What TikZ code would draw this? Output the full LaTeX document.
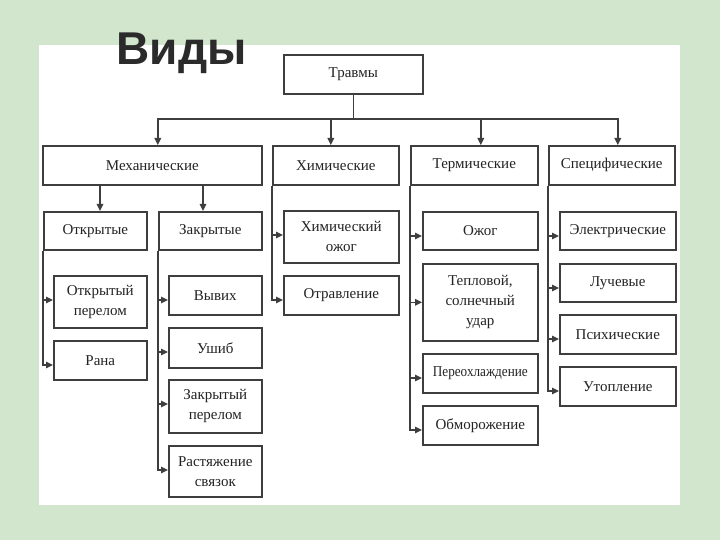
\documentclass[tikz,border=0pt]{standalone}
\usepackage{fontspec}
\setmainfont{Liberation Serif}
\newfontfamily\titlefont{Liberation Sans}
\usetikzlibrary{arrows.meta}

\definecolor{slidegreen}{RGB}{209,230,204}
\definecolor{linegray}{RGB}{62,62,62}
\definecolor{textgray}{RGB}{35,35,35}
\definecolor{titlegray}{RGB}{43,43,43}

\begin{document}
\begin{tikzpicture}[
    x=1pt, y=-1pt,
    box/.style={
        draw=linegray,
        line width=1.6pt,
        fill=white,
        anchor=north west,
        align=center,
        inner sep=1pt,
        text=textgray,
        font=\fontsize{15}{20}\selectfont
    },
    arr/.style={draw=linegray, line width=1.4pt, -{Triangle[length=7pt,width=6.5pt]}},
    link/.style={draw=linegray, line width=1.4pt}
]

% Slide background
\fill[slidegreen] (0,0) rectangle (720,540);
\fill[white] (39,45) rectangle (680,505);

% Title
\node[font=\titlefont\bfseries\fontsize{46}{50}\selectfont, text=titlegray, anchor=base west] (title) at (113,65) {Виды};

% Root
\node[box, minimum width=139pt, minimum height=39pt] (trauma) at (283,54) {Травмы};

% Main groups
\node[box, minimum width=219pt, minimum height=39pt] (mech) at (42,145) {Механические};
\node[box, minimum width=126pt, minimum height=39pt] (chem) at (272,145) {Химические};
\node[box, minimum width=127pt, minimum height=39pt] (term) at (410,145) {Термические};
\node[box, minimum width=126pt, minimum height=39pt] (spec) at (548,145) {Специфические};

% Mechanical subgroups
\node[box, minimum width=103pt, minimum height=38pt] (otkr) at (43,211) {Открытые};
\node[box, minimum width=103pt, minimum height=38pt] (zakr) at (158,211) {Закрытые};

% Open injuries
\node[box, minimum width=93pt, minimum height=52pt] (otkrper) at (53,275) {Открытый\\перелом};
\node[box, minimum width=93pt, minimum height=39pt] (rana) at (53,340) {Рана};

% Closed injuries
\node[box, minimum width=93pt, minimum height=39pt] (vyvih) at (168,275) {Вывих};
\node[box, minimum width=93pt, minimum height=40pt] (ushib) at (168,327) {Ушиб};
\node[box, minimum width=93pt, minimum height=53pt] (zakrper) at (168,379) {Закрытый\\перелом};
\node[box, minimum width=93pt, minimum height=51pt] (rast) at (168,445) {Растяжение\\связок};

% Chemical
\node[box, minimum width=115pt, minimum height=52pt] (himozhog) at (283,210) {Химический\\ожог};
\node[box, minimum width=115pt, minimum height=39pt] (otrav) at (283,275) {Отравление};

% Thermal
\node[box, minimum width=115pt, minimum height=38pt] (ozhog) at (422,211) {Ожог};
\node[box, minimum width=115pt, minimum height=77pt] (teplo) at (422,263) {Тепловой,\\солнечный\\удар};
\node[box, minimum width=115pt, minimum height=39pt] (pereohl) at (422,353) {\scalebox{0.88}[1]{Переохлаждение}};
\node[box, minimum width=115pt, minimum height=39pt] (obmor) at (422,405) {Обморожение};

% Specific
\node[box, minimum width=116pt, minimum height=38pt] (elek) at (559,211) {Электрические};
\node[box, minimum width=116pt, minimum height=38pt] (luch) at (559,263) {Лучевые};
\node[box, minimum width=116pt, minimum height=39pt] (psih) at (559,314) {Психические};
\node[box, minimum width=116pt, minimum height=39pt] (utopl) at (559,366) {Утопление};

% Root to groups
\coordinate (bus) at (trauma.south |- 0,119);
\draw[link] (trauma.south) -- (bus);
\foreach \n/\s in {mech/5.5, chem/-5, term/6.5, spec/6}
    \draw[arr] (bus) -| ([xshift=\s pt]\n.north);

% Mechanical to open / closed
\draw[arr] (mech.south -| 100,0) -- (otkr.north -| 100,0);
\draw[arr] (mech.south -| 203,0) -- (zakr.north -| 203,0);

% Branches to leaves
\foreach \c in {otkrper, rana}
    \draw[arr] (otkr.south west) |- ([yshift=-25pt]\c.north west);
\foreach \c in {vyvih, ushib, zakrper, rast}
    \draw[arr] (zakr.south west) |- ([yshift=-25pt]\c.north west);
\foreach \c in {himozhog, otrav}
    \draw[arr] (chem.south west) |- ([yshift=-25pt]\c.north west);
\foreach \c in {ozhog, pereohl, obmor}
    \draw[arr] (term.south west) |- ([yshift=-25pt]\c.north west);
\draw[arr] (term.south west) |- (teplo.west);
\foreach \c in {elek, luch, psih, utopl}
    \draw[arr] (spec.south west) |- ([yshift=-25pt]\c.north west);

\end{tikzpicture}
\end{document}
